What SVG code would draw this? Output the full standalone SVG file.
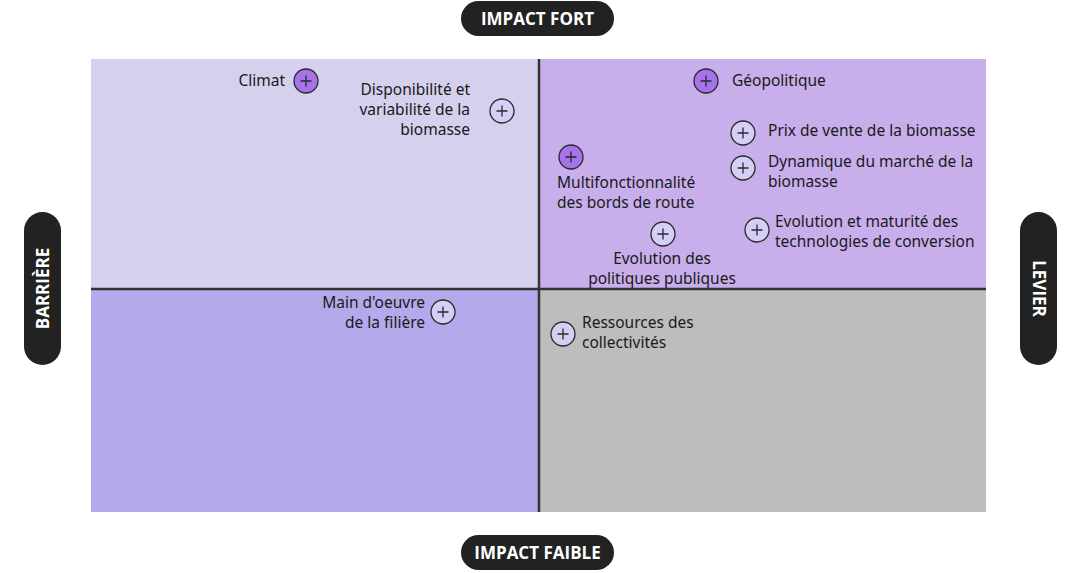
<svg xmlns="http://www.w3.org/2000/svg" width="1068" height="573" viewBox="0 0 1068 573">
<defs>
<style>
.pill{fill:#222222}
.pt{font-family:"Open Sans","Liberation Sans",sans-serif;font-weight:700;font-size:17px;fill:#ffffff;text-anchor:middle}
.lb{font-family:"Noto Sans","Liberation Sans",sans-serif;font-size:15.5px;fill:#1a1a1a}
.e{text-anchor:end}
.m{text-anchor:middle}
.cd{fill:#A673EB;stroke:#2a2a2a;stroke-width:1.3}
.cl{fill:#D5CFF6;stroke:#2a2a2a;stroke-width:1.3}
.plus{stroke:#2a2a2a;stroke-width:1.3;fill:none}
.div{stroke:#333333;stroke-width:2.5}
</style>
<g id="mk">
<path class="plus" d="M-5.5 0H5.5M0 -5.5V5.5"/>
</g>
</defs>
<rect width="1068" height="573" fill="#ffffff"/>
<g id="quadrants">
<rect x="91" y="59" width="448" height="230" fill="#D4D0EE"/>
<rect x="539" y="59" width="447" height="230" fill="#C8AEEA"/>
<rect x="91" y="289" width="448" height="223" fill="#B4A9EB"/>
<rect x="539" y="289" width="447" height="223" fill="#BDBDBD"/>
</g>
<g id="connectors">
<line class="div" x1="539" y1="59" x2="539" y2="512"/>
<line class="div" x1="91" y1="289" x2="986" y2="289"/>
</g>
<g id="axis-top">
<rect class="pill" x="461" y="1" width="153" height="35" rx="17.5"/>
<text class="pt" x="537.5" y="24.5">IMPACT FORT</text>
</g>
<g id="axis-bottom">
<rect class="pill" x="461" y="535" width="153" height="35" rx="17.5"/>
<text class="pt" x="537.5" y="558.5">IMPACT FAIBLE</text>
</g>
<g id="axis-left">
<rect class="pill" x="24" y="212" width="37" height="153" rx="18.5"/>
<text class="pt" transform="translate(48.5 288.5) rotate(-90)">BARRIÈRE</text>
</g>
<g id="axis-right">
<rect class="pill" x="1020" y="212" width="37" height="153" rx="18.5"/>
<text class="pt" transform="translate(1032.5 288.5) rotate(90)">LEVIER</text>
</g>
<g id="n-climat">
<circle class="cd" cx="306" cy="81" r="12"/><use href="#mk" x="306" y="81"/>
<text class="lb e" x="285" y="86">Climat</text>
</g>
<g id="n-disponibilite">
<circle class="cl" cx="502" cy="111" r="12"/><use href="#mk" x="502" y="111"/>
<text class="lb e" x="470" y="95">Disponibilité et</text>
<text class="lb e" x="470" y="115">variabilité de la</text>
<text class="lb e" x="470" y="135">biomasse</text>
</g>
<g id="n-geopolitique">
<circle class="cd" cx="706" cy="81" r="12"/><use href="#mk" x="706" y="81"/>
<text class="lb" x="732" y="86">Géopolitique</text>
</g>
<g id="n-prix">
<circle class="cl" cx="743" cy="133" r="12"/><use href="#mk" x="743" y="133"/>
<text class="lb" x="768" y="136">Prix de vente de la biomasse</text>
</g>
<g id="n-dynamique">
<circle class="cl" cx="743" cy="168" r="12"/><use href="#mk" x="743" y="168"/>
<text class="lb" x="768" y="167">Dynamique du marché de la</text>
<text class="lb" x="768" y="187">biomasse</text>
</g>
<g id="n-multifonctionnalite">
<circle class="cd" cx="571" cy="157" r="12"/><use href="#mk" x="571" y="157"/>
<text class="lb" x="557" y="188">Multifonctionnalité</text>
<text class="lb" x="557" y="208">des bords de route</text>
</g>
<g id="n-politiques">
<circle class="cl" cx="663" cy="234" r="12"/><use href="#mk" x="663" y="234"/>
<text class="lb m" x="662" y="264">Evolution des</text>
<text class="lb m" x="662" y="284">politiques publiques</text>
</g>
<g id="n-technologies">
<circle class="cl" cx="757" cy="230" r="12"/><use href="#mk" x="757" y="230"/>
<text class="lb" x="775" y="227">Evolution et maturité des</text>
<text class="lb" x="775" y="247">technologies de conversion</text>
</g>
<g id="n-main-oeuvre">
<circle class="cl" cx="443" cy="312" r="12"/><use href="#mk" x="443" y="312"/>
<text class="lb e" x="425" y="308">Main d'oeuvre</text>
<text class="lb e" x="425" y="328">de la filière</text>
</g>
<g id="n-ressources">
<circle class="cl" cx="563" cy="334" r="12"/><use href="#mk" x="563" y="334"/>
<text class="lb" x="582" y="328">Ressources des</text>
<text class="lb" x="582" y="348">collectivités</text>
</g>
</svg>
